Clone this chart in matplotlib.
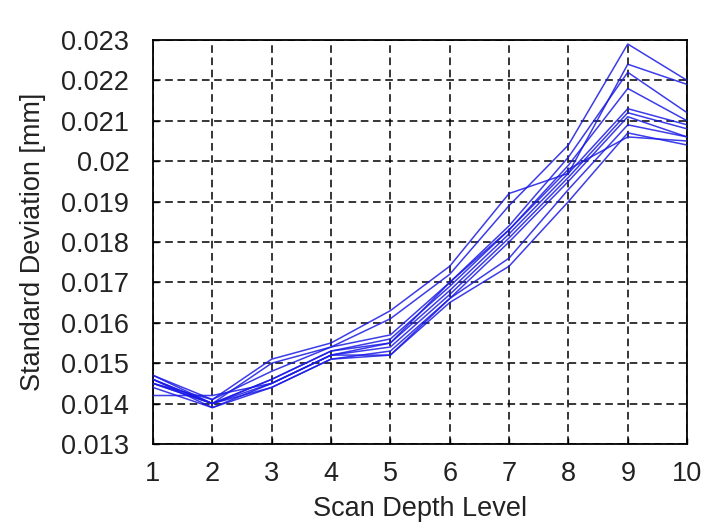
import matplotlib
matplotlib.use("Agg")
import matplotlib.pyplot as plt

plt.rcParams.update({
    'font.family': ['Liberation Sans', 'DejaVu Sans'],
    'font.size': 19.5,
    'figure.facecolor': 'white',
    'axes.facecolor': 'white',
})

# ── données ──────────────────────────────────────────────────
depth = [1, 2, 3, 4, 5, 6, 7, 8, 9, 10]

s1  = [0.0147, 0.0141, 0.0151, 0.0155, 0.0163, 0.0174, 0.0192, 0.0197, 0.0224, 0.0219]
s2  = [0.0146, 0.0140, 0.0150, 0.0154, 0.0161, 0.0172, 0.0189, 0.0204, 0.0229, 0.0220]
s3  = [0.0145, 0.0141, 0.0148, 0.0154, 0.0157, 0.0170, 0.0184, 0.0201, 0.0222, 0.0212]
s4  = [0.0146, 0.0140, 0.0146, 0.0153, 0.0156, 0.0169, 0.0183, 0.0199, 0.0218, 0.0210]
s5  = [0.0145, 0.0140, 0.0145, 0.0152, 0.0155, 0.0168, 0.0182, 0.0197, 0.0213, 0.0209]
s6  = [0.0144, 0.0139, 0.0145, 0.0152, 0.0154, 0.0167, 0.0181, 0.0196, 0.0212, 0.0208]
s7  = [0.0145, 0.0140, 0.0144, 0.0151, 0.0153, 0.0166, 0.0180, 0.0195, 0.0211, 0.0206]
s8  = [0.0142, 0.0142, 0.0145, 0.0152, 0.0152, 0.0166, 0.0176, 0.0193, 0.0209, 0.0206]
s9  = [0.0146, 0.0139, 0.0144, 0.0151, 0.0152, 0.0165, 0.0174, 0.0190, 0.0207, 0.0204]
s10 = [0.0147, 0.0140, 0.0146, 0.0153, 0.0155, 0.0170, 0.0183, 0.0198, 0.0206, 0.0205]

series = [s1, s2, s3, s4, s5, s6, s7, s8, s9, s10]

yticks = [0.013, 0.014, 0.015, 0.016, 0.017, 0.018, 0.019, 0.020, 0.021, 0.022, 0.023]
ylabels = ["0.013", "0.014", "0.015", "0.016", "0.017", "0.018", "0.019",
           "0.02", "0.021", "0.022", "0.023"]

# ── figure ───────────────────────────────────────────────────
fig = plt.figure(figsize=(7.04, 5.24), dpi=100)
ax = fig.add_axes([0.2173, 0.1527, 0.7587, 0.771])

for s in series:
    ax.plot(depth, s, color="#1a1ae6", lw=1.1, alpha=0.85, zorder=3)

ax.set_xlim(1, 10)
ax.set_ylim(0.013, 0.023)
ax.set_xticks(depth)
ax.set_yticks(yticks)
ax.set_yticklabels(ylabels)

ax.grid(True, color="black", ls=(0, (5, 3)), lw=1.1, zorder=1)
ax.tick_params(direction="in", length=4, width=1.0, colors="black",
               labelcolor="#222222")
ax.tick_params(axis="y", pad=17)
ax.tick_params(axis="x", pad=12)
for sp in ax.spines.values():
    sp.set_linewidth(1.3)
    sp.set_color("black")

ax.set_xlabel("Scan Depth Level", fontsize=19.5, color="#222222", labelpad=7)
ax.set_ylabel("Standard Deviation [mm]", fontsize=19.5, color="#222222", labelpad=11)

fig.savefig("out.png", dpi=100)
